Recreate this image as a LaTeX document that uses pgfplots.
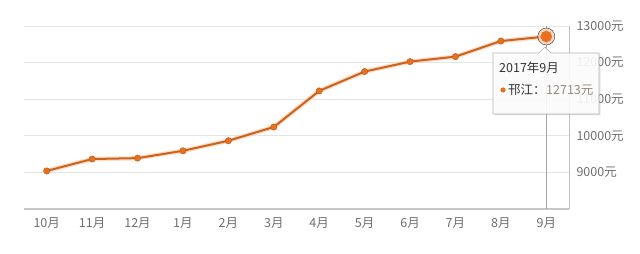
\documentclass[border=0pt]{standalone}
\usepackage{pgfplots}
\pgfplotsset{compat=1.18}
\usetikzlibrary{shadows}
\usepackage{fontspec}
\setmainfont{Noto Sans CJK SC}
\definecolor{lineC}{RGB}{204,98,28}
\definecolor{dotC}{RGB}{232,112,30}
\definecolor{txt}{RGB}{110,110,110}
\definecolor{valC}{RGB}{150,138,125}
\pgfplotstableread{
x y
0 9040
1 9365
2 9390
3 9590
4 9865
5 10240
6 11226
7 11755
8 12027
9 12163
10 12589
11 12713
}\datatable
\begin{document}
\begin{tikzpicture}[x=1pt,y=1pt]
\useasboundingbox (0,0) rectangle (640,254);
\begin{axis}[at={(24pt,45pt)}, anchor=south west, scale only axis,
  width=545pt, height=183pt,
  xmin=-0.5, xmax=11.5, ymin=8000, ymax=13000,
  scaled y ticks=false,
  xtick={0,...,11},
  xticklabels={10月,11月,12月,1月,2月,3月,4月,5月,6月,7月,8月,9月},
  ytick={9000,10000,11000,12000,13000},
  yticklabels={9000元,10000元,11000元,12000元,13000元},
  yticklabel pos=right,
  ymajorgrids, grid style={draw=black!10, line width=0.8pt},
  major tick length=0,
  axis line style={draw=none},
  ticklabel style={font=\fontsize{12.5}{14}\selectfont, text=txt},
  yticklabel style={anchor=west, xshift=4pt},
  xticklabel style={yshift=-5pt},
  clip=false,
]
\draw[black!25, line width=0.8pt] (rel axis cs:1,0) -- (rel axis cs:1,1);
\draw[black!22, line width=1.2pt] (rel axis cs:0,0) -- (rel axis cs:1,0);
\draw[black!35, line width=0.7pt] (axis cs:11,8000) -- (axis cs:11,13000);
\addplot[dotC!40, line width=4.5pt, opacity=0.6] table[x=x,y=y]{\datatable};
\addplot[lineC, line width=2pt, mark=*, mark size=3.2pt,
  mark options={fill=dotC, draw=dotC!80!black, line width=0.4pt}] table[x=x,y=y]{\datatable};
\addplot[only marks, mark=*, mark size=8.5pt, mark options={fill=dotC!35, draw=none, opacity=0.8}] coordinates {(11,12713)};
\addplot[only marks, mark=*, mark size=5.5pt, mark options={fill=dotC, draw=dotC}] coordinates {(11,12713)};
\end{axis}
% tooltip
\filldraw[draw=black!30, fill=white, fill opacity=0.88, line width=0.6pt,
  drop shadow={opacity=0.18, shadow xshift=1.5pt, shadow yshift=-1.5pt}]
  (493,140) -- (493,201) -- (539,201) -- (545,207) -- (551,201) -- (599,201) -- (599,140) -- cycle;
\node[anchor=west, inner sep=0pt, text=black!80, font=\fontsize{12.5}{14}\selectfont] at (499,186) {2017年9月};
\fill[dotC] (503,164) circle (2.6);
\node[anchor=west, inner sep=0pt, text=black!80, font=\fontsize{12.5}{14}\selectfont] at (508,164) {邗江：};
\node[anchor=west, inner sep=0pt, text=valC, font=\fontsize{12.5}{14}\selectfont] at (546,164) {12713元};
\end{tikzpicture}
\end{document}
